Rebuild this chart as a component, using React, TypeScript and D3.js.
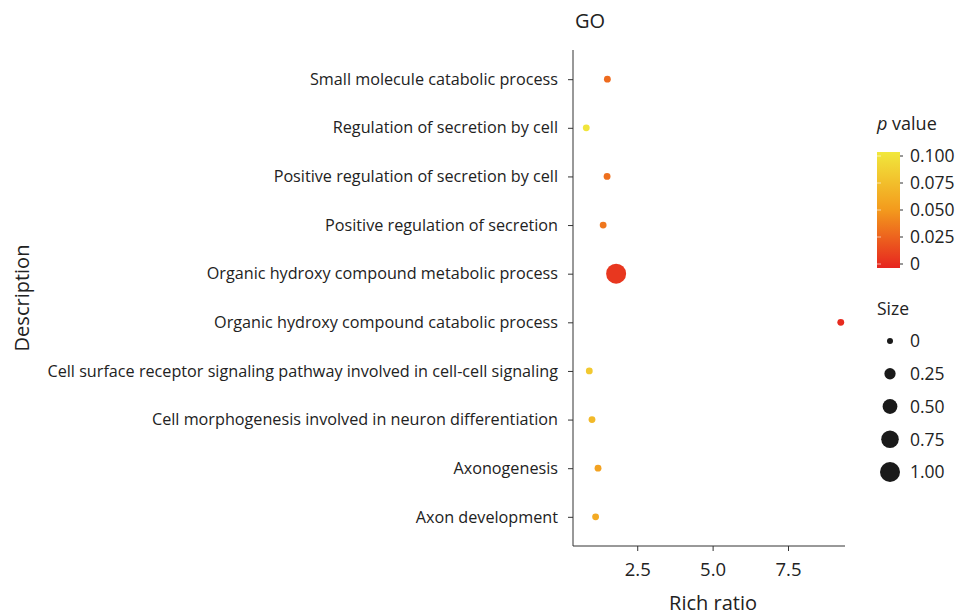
import React, { useRef, useEffect } from 'react';
import * as d3 from 'd3';

// GO terms, bottom to top as drawn
const terms = [
  'Axon development',
  'Axonogenesis',
  'Cell morphogenesis involved in neuron differentiation',
  'Cell surface receptor signaling pathway involved in cell-cell signaling',
  'Organic hydroxy compound catabolic process',
  'Organic hydroxy compound metabolic process',
  'Positive regulation of secretion',
  'Positive regulation of secretion by cell',
  'Regulation of secretion by cell',
  'Small molecule catabolic process',
];
const richRatio = [1.12, 1.2, 1.0, 0.91, 9.25, 1.8, 1.37, 1.5, 0.81, 1.51];
const pValue = [0.06, 0.055, 0.07, 0.08, 0.003, 0.008, 0.035, 0.032, 0.098, 0.03];
const sizeVal = [0.03, 0.03, 0.03, 0.03, 0.03, 1.0, 0.03, 0.03, 0.03, 0.03];

const xTicks = [2.5, 5.0, 7.5];
const pTicks = [0, 0.025, 0.05, 0.075, 0.1];
const sizeTicks = [0, 0.25, 0.5, 0.75, 1.0];

const FONT = '"Open Sans", Roboto, sans-serif';
const TEXT = '#222';

const App = () => {
  const ref = useRef<SVGSVGElement>(null);

  useEffect(() => {
    const svg = d3.select(ref.current);
    svg.selectAll('*').remove();

    const left = 573, right = 845, top = 50, bottom = 546;

    const x = d3.scaleLinear().domain([0.37, 9.39]).range([left, right]);
    const y = d3.scalePoint<string>().domain(terms).range([bottom, top]).padding(0.6);
    const color = d3.scaleLinear<string>()
      .domain([0, 0.05, 0.1])
      .range(['#e6241f', '#f39a1d', '#f1e83c']);
    const r = d3.scaleRadial().domain([0, 1]).range([3, 10]);

    // axes
    const xAxis = svg.append('g')
      .attr('transform', `translate(0,${bottom})`)
      .call(d3.axisBottom(x).tickValues(xTicks).tickFormat(d3.format('.1f')).tickSize(5).tickSizeOuter(0));
    xAxis.select('.domain').attr('stroke', '#333').attr('d', `M${left},0H${right}`);
    xAxis.selectAll('line').attr('stroke', '#333');
    xAxis.selectAll('text').attr('font-family', FONT).attr('font-size', 18.5).attr('fill', TEXT)
      .attr('y', 13).attr('dy', '0.9em');

    const yAxis = svg.append('g')
      .attr('transform', `translate(${left},0)`)
      .call(d3.axisLeft(y).tickSize(5).tickSizeOuter(0));
    yAxis.select('.domain').attr('stroke', '#333').attr('d', `M0,${top}V${bottom}`);
    yAxis.selectAll('line').attr('stroke', '#333');
    yAxis.selectAll('text').attr('font-family', FONT).attr('font-size', 16.2).attr('fill', TEXT).attr('x', -15);

    // points
    svg.append('g').selectAll('circle')
      .data(terms.map((t, i) => ({ t, rr: richRatio[i], p: pValue[i], s: sizeVal[i] })))
      .join('circle')
      .attr('cx', d => x(d.rr))
      .attr('cy', d => y(d.t)!)
      .attr('r', d => r(d.s))
      .attr('fill', d => color(d.p));

    // titles
    svg.append('text').attr('x', 590).attr('y', 28).attr('text-anchor', 'middle')
      .attr('font-family', FONT).attr('font-size', 20).attr('fill', TEXT).text('GO');
    svg.append('text').attr('x', 713).attr('y', 610).attr('text-anchor', 'middle')
      .attr('font-family', FONT).attr('font-size', 20).attr('fill', TEXT).text('Rich ratio');
    svg.append('text').attr('transform', 'translate(29,298) rotate(-90)').attr('text-anchor', 'middle')
      .attr('font-family', FONT).attr('font-size', 20).attr('fill', TEXT).text('Description');

    // colour legend
    const lg = svg.append('g');
    const pt = lg.append('text').attr('x', 877).attr('y', 130)
      .attr('font-family', FONT).attr('font-size', 18).attr('fill', TEXT);
    pt.append('tspan').attr('font-style', 'italic').text('p');
    pt.append('tspan').text(' value');

    const barX = 877, barW = 23, barTop = 152, barBot = 268;
    const py = d3.scaleLinear().domain([0, 0.1]).range([barBot - 4, barTop + 4]);
    const grad = svg.append('defs').append('linearGradient')
      .attr('id', 'pgrad').attr('x1', 0).attr('x2', 0).attr('y1', 1).attr('y2', 0);
    d3.range(0, 1.0001, 0.1).forEach(t => {
      grad.append('stop').attr('offset', t).attr('stop-color', color(t * 0.1));
    });
    lg.append('rect').attr('x', barX).attr('y', barTop).attr('width', barW).attr('height', barBot - barTop)
      .attr('fill', 'url(#pgrad)');
    pTicks.forEach(v => {
      lg.append('line').attr('x1', barX).attr('x2', barX + 4).attr('y1', py(v)).attr('y2', py(v))
        .attr('stroke', '#fff').attr('stroke-opacity', 0.6);
      lg.append('line').attr('x1', barX + barW).attr('x2', barX + barW + 3).attr('y1', py(v)).attr('y2', py(v))
        .attr('stroke', '#333');
      lg.append('text').attr('x', 910).attr('y', py(v)).attr('dy', '0.36em')
        .attr('font-family', FONT).attr('font-size', 17.5).attr('fill', TEXT)
        .text(v === 0 ? '0' : d3.format('.3f')(v));
    });

    // size legend
    lg.append('text').attr('x', 877).attr('y', 315)
      .attr('font-family', FONT).attr('font-size', 17.5).attr('fill', TEXT).text('Size');
    const sy = d3.scalePoint<number>().domain(sizeTicks).range([341, 472]);
    sizeTicks.forEach(v => {
      lg.append('circle').attr('cx', 890).attr('cy', sy(v)!).attr('r', r(v)).attr('fill', '#1a1a1a');
      lg.append('text').attr('x', 910).attr('y', sy(v)!).attr('dy', '0.36em')
        .attr('font-family', FONT).attr('font-size', 17.5).attr('fill', TEXT)
        .text(v === 0 ? '0' : d3.format('.2f')(v));
    });
  }, []);

  return (
    <svg ref={ref} width={976} height={616}
      style={{ position: 'absolute', left: 0, top: 0, background: '#fff' }} />
  );
};

export default App;
